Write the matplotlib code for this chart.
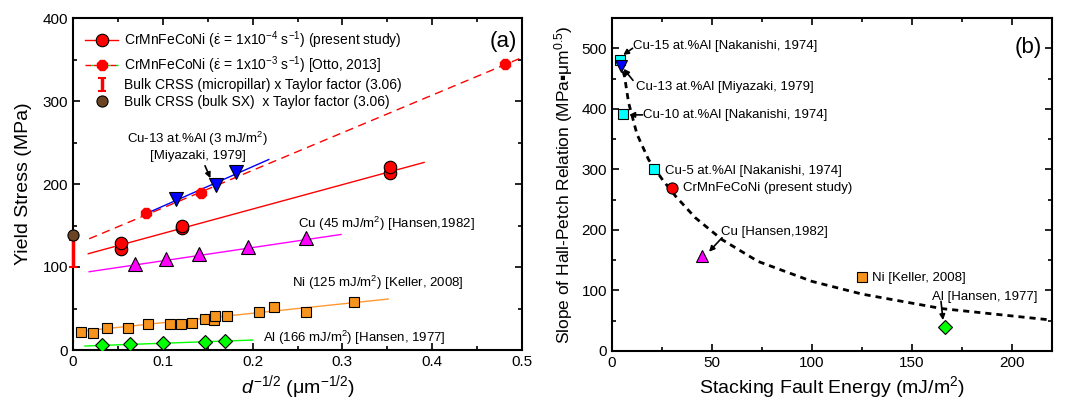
import matplotlib
matplotlib.use("Agg")
import matplotlib.pyplot as plt
from matplotlib.ticker import MultipleLocator, FuncFormatter

plt.rcParams['font.family'] = ['Liberation Sans', 'DejaVu Sans']
plt.rcParams['mathtext.fontset'] = 'custom'
plt.rcParams['mathtext.rm'] = 'Liberation Sans'
plt.rcParams['mathtext.it'] = 'Liberation Sans:italic'
plt.rcParams['mathtext.default'] = 'regular'

# ---------------- Panel (a) data ----------------
present_x = [0.054, 0.054, 0.121, 0.121, 0.353, 0.353]
present_y = [122, 129, 147, 150, 213, 220]
present_fit_x = [0.017, 0.391]
present_fit_y = [116, 226]

otto_x = [0.081, 0.142, 0.481]
otto_y = [164.5, 189.5, 345]
otto_fit_x = [0.018, 0.497]
otto_fit_y = [134, 351]

miy_x = [0.1144, 0.159, 0.181]
miy_y = [182, 198.5, 214]
miy_fit_x = [0.087, 0.218]
miy_fit_y = [167, 229.5]

cu_x = [0.069, 0.104, 0.140, 0.195, 0.260]
cu_y = [103.5, 110, 115.5, 123.5, 134.4]
cu_fit_x = [0.018, 0.2985]
cu_fit_y = [94.3, 139.2]

ni_x = [0.0085, 0.0226, 0.0374, 0.0615, 0.083, 0.108, 0.120, 0.132,
        0.147, 0.157, 0.158, 0.171, 0.207, 0.224, 0.260, 0.313]
ni_y = [22, 20, 26.9, 26, 30.9, 30.9, 30.9, 32.9,
        36.9, 36.1, 40.9, 40.9, 46.1, 51.4, 46.1, 58.1]
ni_fit_x = [0.004, 0.351]
ni_fit_y = [22, 61.4]

al_x = [0.0318, 0.064, 0.0997, 0.1467, 0.169]
al_y = [6, 7.2, 8, 9.2, 11.2]
al_fit_x = [0.0133, 0.2]
al_fit_y = [4.8, 12]

bulk_sx_x = [0.0]
bulk_sx_y = [139]
micropillar_x = [0.0]
micropillar_lo = [100]
micropillar_hi = [132]

# ---------------- Panel (b) data ----------------
sfe_names = ["Cu-15 at.%Al [Nakanishi, 1974]", "Cu-10 at.%Al [Nakanishi, 1974]",
             "Cu-5 at.%Al [Nakanishi, 1974]"]
nak_sfe = [4, 5.3, 21]
nak_k = [481, 392, 300]
miy_sfe = [4.5]
miy_k = [470]
hea_sfe = [30]
hea_k = [269]
cu_sfe = [45]
cu_k = [157]
ni_sfe = [125]
ni_k = [122]
al_sfe = [166.5]
al_k = [40]
curve_x = [5.5, 6.3, 8.3, 12.5, 18.3, 25, 31.7, 41.7, 55, 73, 100, 125, 165, 220]
curve_y = [462, 453, 410, 358, 316, 284, 256, 220, 184, 148, 115, 94, 70, 51]

# ---------------- Figure ----------------
fig = plt.figure(figsize=(10.68, 4.01), dpi=100)
W, H = 1068, 401
axa = fig.add_axes([73 / W, (H - 350) / H, 449 / W, 332 / H])
axb = fig.add_axes([612 / W, (H - 351) / H, 440 / W, 333 / H])

RED = '#ff0000'
ek = dict(markeredgecolor='black', markeredgewidth=0.8)

# fit lines
axa.plot(present_fit_x, present_fit_y, color=RED, lw=1.0)
axa.plot(otto_fit_x, otto_fit_y, color=RED, lw=1.0, dashes=(6, 4))
axa.plot(miy_fit_x, miy_fit_y, color='#0000ff', lw=1.0)
axa.plot(cu_fit_x, cu_fit_y, color='#ff00ff', lw=1.0)
axa.plot(ni_fit_x, ni_fit_y, color='#ff9933', lw=1.0)
axa.plot(al_fit_x, al_fit_y, color='#00ff00', lw=1.0)

# markers
axa.plot(miy_x, miy_y, 'v', color='#0000ff', ms=10, **ek, zorder=4)
axa.plot(present_x, present_y, 'o', color=RED, ms=9, **ek, zorder=5)
axa.plot(otto_x, otto_y, '8', color=RED, ms=8, markeredgecolor=RED, zorder=5)
axa.plot(cu_x, cu_y, '^', color='#ff00ff', ms=10, **ek, zorder=4)
axa.plot(ni_x, ni_y, 's', color='#f7941d', ms=7.5, **ek, zorder=4)
axa.plot(al_x, al_y, 'D', color='#00ff00', ms=7.5, **ek, zorder=4)

# legend proxies
h1, = axa.plot([], [], '-o', color=RED, lw=1.0, ms=9, **ek)
h2, = axa.plot([], [], '8', color=RED, ms=8, markeredgecolor=RED,
               linestyle='--', lw=1.0, gapcolor='#00dd00', dashes=(4, 2))
c = (micropillar_lo[0] + micropillar_hi[0]) / 2
e = (micropillar_hi[0] - micropillar_lo[0]) / 2
h3 = axa.errorbar(micropillar_x, [c], yerr=[e], fmt='none', ecolor=RED,
                  elinewidth=2.5, capsize=3, capthick=1.5, clip_on=False, zorder=6)
for art in h3.lines[1] + h3.lines[2]:
    art.set_clip_on(False)
h4, = axa.plot(bulk_sx_x, bulk_sx_y, 'o', color='#6b4423', ms=8, **ek,
               clip_on=False, zorder=7)

leg = axa.legend([h1, h2, h3, h4],
                 [r"CrMnFeCoNi ($\dot{\varepsilon}$ = 1x10$^{-4}$ s$^{-1}$) (present study)",
                  r"CrMnFeCoNi ($\dot{\varepsilon}$ = 1x10$^{-3}$ s$^{-1}$) [Otto, 2013]",
                  "Bulk CRSS (micropillar) x Taylor factor (3.06)",
                  "Bulk CRSS (bulk SX)  x Taylor factor (3.06)"],
                 loc='upper left', bbox_to_anchor=(12 / 449, 0.965), frameon=False,
                 fontsize=10, borderpad=0, borderaxespad=0, labelspacing=0.2,
                 handlelength=2.4, handletextpad=0.4)

# annotations panel (a)
fs = 9.5
arrow = dict(arrowstyle='-|>', color='black', lw=1.2, mutation_scale=8,
             shrinkA=0, shrinkB=0)
axa.text(0.139, 246, "Cu-13 at.%Al (3 mJ/m$^{2}$)\n[Miyazaki, 1979]", ha='center',
         va='center', fontsize=fs, linespacing=1.2)
axa.annotate("", xy=(0.153, 207), xytext=(0.147, 222), arrowprops=arrow)
axa.text(0.251, 152, "Cu (45 mJ/m$^{2}$) [Hansen,1982]", ha='left', va='center', fontsize=fs)
axa.text(0.244, 81, "Ni (125 mJ/m$^{2}$) [Keller, 2008]", ha='left', va='center', fontsize=fs)
axa.text(0.212, 14, "Al (166 mJ/m$^{2}$) [Hansen, 1977]", ha='left', va='center', fontsize=fs)
axa.text(0.958, 0.93, "(a)", transform=axa.transAxes, ha='center', va='center', fontsize=16)

axa.set_xlim(0, 0.5)
axa.set_ylim(0, 400)
axa.xaxis.set_major_locator(MultipleLocator(0.1))
axa.xaxis.set_minor_locator(MultipleLocator(0.05))
axa.yaxis.set_major_locator(MultipleLocator(100))
axa.yaxis.set_minor_locator(MultipleLocator(50))
axa.xaxis.set_major_formatter(FuncFormatter(lambda v, p: '0' if abs(v) < 1e-9 else f'{v:.1f}'))
axa.set_xlabel(r"$\mathit{d}^{-1/2}$ ($\mu$m$^{-1/2}$)", fontsize=14, labelpad=3)
axa.set_ylabel("Yield Stress (MPa)", fontsize=14, labelpad=8)

# ---------------- Panel (b) ----------------
axb.plot(curve_x, curve_y, color='black', lw=2.0, dashes=(2.2, 1.8), zorder=2)
axb.plot(nak_sfe, nak_k, 's', color='#00ffff', ms=6.5, **ek, zorder=3)
axb.plot(miy_sfe, miy_k, 'v', color='#0000ff', ms=8, **ek, zorder=4)
axb.plot(hea_sfe, hea_k, 'o', color=RED, ms=8, **ek, zorder=4)
axb.plot(cu_sfe, cu_k, '^', color='#ff00ff', ms=9, **ek, zorder=4)
axb.plot(ni_sfe, ni_k, 's', color='#f7941d', ms=7, **ek, zorder=4)
axb.plot(al_sfe, al_k, 'D', color='#00ff00', ms=7.5, **ek, zorder=4)

axb.text(10.5, 503, sfe_names[0], fontsize=fs, ha='left', va='center')
axb.annotate("", xy=(5.6, 489), xytext=(10.3, 500), arrowprops=arrow)
axb.text(12, 436, "Cu-13 at.%Al [Miyazaki, 1979]", fontsize=fs, ha='left', va='center')
axb.annotate("", xy=(5.8, 466), xytext=(10.5, 447), arrowprops=arrow)
axb.text(15.5, 390, sfe_names[1], fontsize=fs, ha='left', va='center')
axb.annotate("", xy=(8.6, 390), xytext=(15.3, 390), arrowprops=arrow)
axb.text(26.5, 298, sfe_names[2], fontsize=fs, ha='left', va='center')
axb.text(35.5, 269, "CrMnFeCoNi (present study)", fontsize=fs, ha='left', va='center')
axb.text(54.5, 197, "Cu [Hansen,1982]", fontsize=fs, ha='left', va='center')
axb.annotate("", xy=(48.5, 164), xytext=(55, 187), arrowprops=arrow)
axb.text(130, 121, "Ni [Keller, 2008]", fontsize=fs, ha='left', va='center')
axb.text(186.5, 89, "Al [Hansen, 1977]", fontsize=fs, ha='center', va='center')
axb.annotate("", xy=(165.5, 51), xytext=(164.5, 82), arrowprops=arrow)
axb.text(0.945, 0.91, "(b)", transform=axb.transAxes, ha='center', va='center', fontsize=16)

axb.set_xlim(0, 220)
axb.set_ylim(0, 550)
axb.xaxis.set_major_locator(MultipleLocator(50))
axb.xaxis.set_minor_locator(MultipleLocator(25))
axb.yaxis.set_major_locator(MultipleLocator(100))
axb.yaxis.set_minor_locator(MultipleLocator(50))
axb.set_xlabel("Stacking Fault Energy (mJ/m$^{2}$)", fontsize=14, labelpad=3)
axb.set_ylabel("Slope of Hall-Petch Relation (MPa\u25aa\u03bcm$^{0.5}$)", fontsize=12.5, labelpad=5)

for ax in (axa, axb):
    for s in ax.spines.values():
        s.set_linewidth(1.5)
    ax.tick_params(which='both', direction='in', top=True, right=True,
                   labelsize=11, width=1.2)
    ax.tick_params(which='major', length=5)
    ax.tick_params(which='minor', length=3)

fig.savefig("out.png", dpi=100)
